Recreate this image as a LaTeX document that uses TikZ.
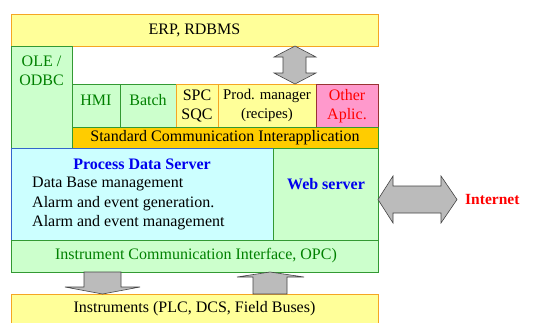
\documentclass[tikz,border=0pt]{standalone}
\usepackage{fontspec}
\setmainfont{Liberation Serif}
\definecolor{ylfill}{HTML}{FFFF99}
\definecolor{ylbord}{HTML}{F5A623}
\definecolor{grfill}{HTML}{CCFFCC}
\definecolor{grbord}{HTML}{339933}
\definecolor{grtext}{HTML}{008000}
\definecolor{pkfill}{HTML}{FF99CC}
\definecolor{pkbord}{HTML}{993333}
\definecolor{orfill}{HTML}{FFCC00}
\definecolor{cyfill}{HTML}{CCFFFF}
\definecolor{blbord}{HTML}{3366CC}
\definecolor{bltext}{HTML}{0000EE}
\definecolor{arfill}{HTML}{BBBBBB}
\definecolor{arbord}{HTML}{444444}
\begin{document}
\begin{tikzpicture}[x=1pt,y=-1pt,
  box/.style={draw,line width=0.8pt,inner sep=0pt},
  ybox/.style={box,fill=ylfill,draw=ylbord},
  gbox/.style={box,fill=grfill,draw=grbord},
  lbl/.style={font=\fontsize{16}{19}\selectfont,align=center,inner sep=0pt},
  blb/.style={lbl,font=\bfseries\fontsize{16}{19}\selectfont},
  arr/.style={fill=arfill,draw=arbord,line width=0.6pt}]
\useasboundingbox (0,0) rectangle (545,322);
% boxes
\draw[ybox] (11,14) rectangle (378,46);
\node[lbl] (erp) at (194.5,30) {ERP, RDBMS};
\draw[gbox] (11,46) rectangle (72,148);
\node[lbl,text=grtext] (ole) at (41.5,71) {OLE /\\ODBC};
\draw[gbox] (72,84) rectangle (120,127);
\node[lbl,text=grtext] (hmi) at (96,100) {HMI};
\draw[gbox] (120,84) rectangle (176,127);
\node[lbl,text=grtext] (batch) at (148,100) {Batch};
\draw[ybox] (176,84) rectangle (218,127);
\node[lbl] (spc) at (197,106) {SPC\\SQC};
\draw[ybox] (218,84) rectangle (316,127);
\node[lbl,font=\fontsize{14.8}{19}\selectfont] (prod) at (267,105) {Prod. manager\\(recipes)};
\draw[box,fill=pkfill,draw=pkbord] (316,84) rectangle (378,127);
\node[lbl,text=red] (other) at (347,106) {Other\\Aplic.};
\draw[box,fill=orfill,draw=grbord] (72,127) rectangle (378,148);
\node[lbl] (sci) at (225,138) {Standard Communication Interapplication};
\draw[box,fill=cyfill,draw=blbord] (11,148) rectangle (273,240);
\node[blb,text=bltext] (pds) at (142,164) {Process Data Server};
\node[lbl,anchor=west,align=left] (pds1) at (32,184) {Data Base management};
\node[lbl,anchor=west,align=left] (pds2) at (32,204) {Alarm and event generation.};
\node[lbl,anchor=west,align=left] (pds3) at (32,223) {Alarm and event management};
\draw[gbox] (273,148) rectangle (378,240);
\node[blb,text=bltext] (web) at (326,184) {Web server};
\draw[gbox] (11,240) rectangle (378,272);
\node[lbl,text=grtext] (ici) at (196,256) {Instrument Communication Interface, OPC)};
\draw[ybox] (11,294) rectangle (378,330);
\node[lbl] (inst) at (194.5,309) {Instruments (PLC, DCS, Field Buses)};
% arrows
\draw[arr] (295,46) -- (316,57) -- (306,57) -- (306,73) -- (316,73) -- (295,84) -- (274,73) -- (283,73) -- (283,57) -- (274,57) -- cycle;
\draw[arr] (84,272) -- (121,272) -- (121,287) -- (140,287) -- (102.5,294) -- (65,287) -- (84,287) -- cycle;
\draw[arr] (253,294) -- (287,294) -- (287,277) -- (304,277) -- (270,272) -- (237,277) -- (253,277) -- cycle;
\draw[arr] (378,199.5) -- (393,176) -- (393,186) -- (441,186) -- (441,176) -- (457,199.5) -- (441,223) -- (441,213) -- (393,213) -- (393,223) -- cycle;
\node[blb,text=red,font=\bfseries\fontsize{15.5}{19}\selectfont,anchor=west] (net) at (465,199) {Internet};
\end{tikzpicture}
\end{document}
